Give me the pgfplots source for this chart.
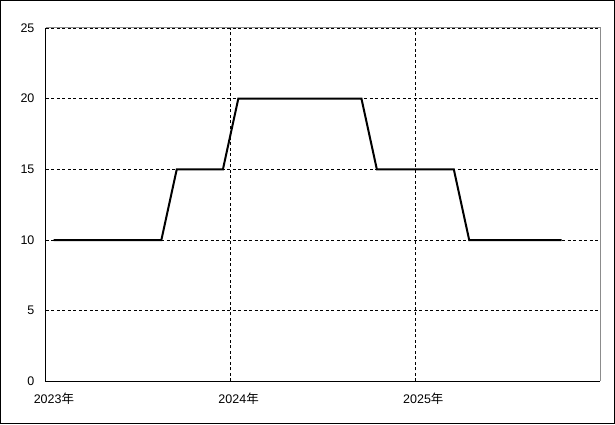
\documentclass[border=0.5pt]{standalone}
\usepackage{fontspec}
\setmainfont{Liberation Sans}
\newfontfamily\cjk{Noto Sans CJK JP}
\usepackage{pgfplots}
\pgfplotsset{compat=1.18}

% monthly values, x = month index (0 = Jan 2023), plotted at mid-month
\pgfplotstableread{
m   v
0.5  10
1.5  10
2.5  10
3.5  10
4.5  10
5.5  10
6.5  10
7.5  10
8.5  15
9.5  15
10.5 15
11.5 15
12.5 20
13.5 20
14.5 20
15.5 20
16.5 20
17.5 20
18.5 20
19.5 20
20.5 20
21.5 15
22.5 15
23.5 15
24.5 15
25.5 15
26.5 15
27.5 10
28.5 10
29.5 10
30.5 10
31.5 10
32.5 10
33.5 10
}\ratetable

\begin{document}
\begin{tikzpicture}
\begin{axis}[
  scale only axis,
  width=555pt, height=354pt,
  xmin=0, xmax=36,
  ymin=0, ymax=25,
  xtick={0,12,24},
  xticklabels={2023{\cjk 年},2024{\cjk 年},2025{\cjk 年}},
  ytick={0,5,10,15,20,25},
  major tick length=0pt,
  tick label style={font=\fontsize{12.5}{15}\selectfont},
  /pgf/number format/assume math mode=true,
  xticklabel style={yshift=-8pt, xshift=8pt},
  yticklabel style={xshift=-8pt},
  axis line style={draw=none},
  xmajorgrids, ymajorgrids,
  major grid style={black, line width=0.9pt, dash pattern=on 3pt off 2.5pt},
  clip=false,
]
\addplot[black, line width=2pt, line join=miter] table[x=m, y=v] {\ratetable};
\draw[gray!90, line width=1pt] (rel axis cs:0,1) -- (rel axis cs:1,1) -- (rel axis cs:1,0);
\draw[black, line width=1pt] (rel axis cs:0,1) -- (rel axis cs:0,0) -- (rel axis cs:1,0);
\end{axis}
\draw[black, line width=1pt] ([xshift=-45pt,yshift=-42pt]current axis.south west) rectangle ([xshift=14pt,yshift=27pt]current axis.north east);
\end{tikzpicture}
\end{document}
